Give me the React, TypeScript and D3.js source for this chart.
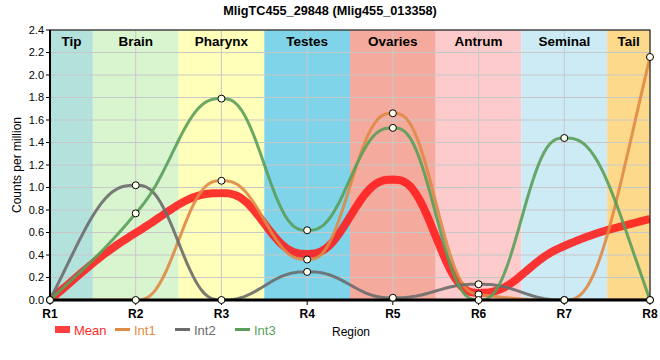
import React from "react";
import * as d3 from "d3";

const regions = ["R1", "R2", "R3", "R4", "R5", "R6", "R7", "R8"];
const tissues = ["Tip", "Brain", "Pharynx", "Testes", "Ovaries", "Antrum", "Seminal", "Tail"];
const tissueColors = ["#b3e2dd", "#d9f5d0", "#ffffb9", "#7fd4ea", "#f4aa9d", "#fdcbcb", "#cdebf4", "#fdd98b"];
const int1 = [0, 0, 1.06, 0.36, 1.66, 0.05, 0, 2.16];
const int2 = [0, 1.02, 0, 0.25, 0.02, 0.14, 0, 0];
const int3 = [0, 0.77, 1.79, 0.62, 1.53, 0, 1.44, 0];
const mean = int1.map((v, i) => (v + int2[i] + int3[i]) / 3);
const yTicks = d3.range(0, 2.41, 0.2);

const W = 660;
const H = 360;
const M = { left: 50, right: 10, top: 30, bottom: 60 };

const series = [
  { name: "Int1", values: int1, color: "#e08a45" },
  { name: "Int2", values: int2, color: "#6b6b6b" },
  { name: "Int3", values: int3, color: "#5a9e5a" },
];

// monotone tangents (like curveMonotoneX) but a quintic hermite between points,
// gives the flatter tops the original plot has
function curveQuintic(context: any) {
  let xs: number[] = [];
  let ys: number[] = [];
  return {
    areaStart() {},
    areaEnd() {},
    lineStart() {
      xs = [];
      ys = [];
    },
    point(x: number, y: number) {
      xs.push(+x);
      ys.push(+y);
    },
    lineEnd() {
      const n = xs.length;
      if (!n) return;
      context.moveTo(xs[0], ys[0]);
      if (n < 3) {
        if (n === 2) context.lineTo(xs[1], ys[1]);
        return;
      }
      const s: number[] = [];
      for (let i = 0; i < n - 1; i++) s.push((ys[i + 1] - ys[i]) / (xs[i + 1] - xs[i]));
      const m = new Array(n).fill(0);
      for (let i = 1; i < n - 1; i++) {
        const h0 = xs[i] - xs[i - 1];
        const h1 = xs[i + 1] - xs[i];
        const p = (s[i - 1] * h1 + s[i] * h0) / (h0 + h1);
        m[i] = (Math.sign(s[i - 1]) + Math.sign(s[i])) * Math.min(Math.abs(s[i - 1]), Math.abs(s[i]), 0.5 * Math.abs(p)) || 0;
      }
      m[0] = (3 * s[0] - m[1]) / 2;
      m[n - 1] = (3 * s[n - 2] - m[n - 2]) / 2;
      for (let i = 0; i < n - 1; i++) {
        const h = xs[i + 1] - xs[i];
        for (let k = 1; k <= 30; k++) {
          const t = k / 30;
          const t3 = t * t * t;
          const t4 = t3 * t;
          const t5 = t4 * t;
          const h0 = 1 - 10 * t3 + 15 * t4 - 6 * t5;
          const h1 = t - 6 * t3 + 8 * t4 - 3 * t5;
          const h4 = -4 * t3 + 7 * t4 - 3 * t5;
          const h5 = 10 * t3 - 15 * t4 + 6 * t5;
          context.lineTo(xs[i] + t * h, h0 * ys[i] + h1 * h * m[i] + h5 * ys[i + 1] + h4 * h * m[i + 1]);
        }
      }
    },
  };
}

export default function App() {
  const x = d3.scalePoint().domain(regions).range([M.left, W - M.right]);
  const y = d3.scaleLinear().domain([0, 2.4]).range([H - M.bottom, M.top]);
  const step = x.step();
  const line = d3
    .line<number>()
    .x((_, i) => x(regions[i])!)
    .y((d) => y(d))
    .curve(curveQuintic as any);
  const font = "Arial, 'Liberation Sans', sans-serif";
  const legend = [
    { name: "Mean", color: "#ff2a2a", thick: true },
    ...series.map((s) => ({ name: s.name, color: s.color, thick: false })),
  ];

  return (
    <svg width={W} height={H} style={{ position: "absolute", left: 0, top: 0 }} fontFamily={font}>
      <defs>
        <clipPath id="plot">
          <rect x={M.left} y={M.top} width={W - M.left - M.right} height={H - M.top - M.bottom} />
        </clipPath>
      </defs>
      <text x={W / 2} y={15} textAnchor="middle" fontSize={12.7} fontWeight="bold">
        MligTC455_29848 (Mlig455_013358)
      </text>
      {/* tissue bands */}
      <g clipPath="url(#plot)">
        {tissues.map((t, i) => {
          const cx = x(regions[i])!;
          return (
            <rect key={t} x={cx - step / 2} y={M.top} width={step} height={H - M.top - M.bottom} fill={tissueColors[i]} />
          );
        })}
      </g>
      {/* grid */}
      <g stroke="#c8c8c8" strokeWidth={1}>
        {yTicks.map((t) => (
          <line key={t} x1={M.left} x2={W - M.right} y1={y(t)} y2={y(t)} />
        ))}
        {regions.map((r) => (
          <line key={r} x1={x(r)} x2={x(r)} y1={M.top} y2={H - M.bottom} />
        ))}
      </g>
      {tissues.map((t, i) => {
        const lo = Math.max(M.left, x(regions[i])! - step / 2);
        const hi = Math.min(W - M.right, x(regions[i])! + step / 2);
        return (
          <text key={t} x={(lo + hi) / 2} y={M.top + 16} textAnchor="middle" fontSize={13.5} fontWeight="bold">
            {t}
          </text>
        );
      })}
      {/* lines */}
      <g clipPath="url(#plot)" fill="none">
        <path d={line(mean)!} stroke="#ff1a1a" strokeOpacity={0.88} strokeWidth={8} />
        {series.map((s) => (
          <path key={s.name} d={line(s.values)!} stroke={s.color} strokeOpacity={0.9} strokeWidth={3} />
        ))}
      </g>
      {/* frame + axes */}
      <rect x={M.left} y={M.top} width={W - M.left - M.right} height={H - M.top - M.bottom} fill="none" stroke="#000" strokeWidth={1} />
      <line x1={M.left} x2={M.left} y1={M.top} y2={H - M.bottom} stroke="#000" strokeWidth={2} />
      <line x1={M.left} x2={W - M.right} y1={H - M.bottom} y2={H - M.bottom} stroke="#000" strokeWidth={3} />
      {yTicks.map((t) => (
        <g key={t}>
          <line x1={M.left - 4} x2={M.left} y1={y(t)} y2={y(t)} stroke="#000" />
          <text x={M.left - 6} y={y(t)} dy="0.35em" textAnchor="end" fontSize={11}>
            {d3.format(".1f")(t)}
          </text>
        </g>
      ))}
      {regions.map((r) => (
        <g key={r}>
          <line x1={x(r)} x2={x(r)} y1={H - M.bottom} y2={H - M.bottom + 5} stroke="#000" />
          <text x={x(r)} y={H - M.bottom + 18} textAnchor="middle" fontSize={12} fontWeight="bold">
            {r}
          </text>
        </g>
      ))}
      {/* points */}
      <g fill="#fffff0" stroke="#000" strokeWidth={1}>
        {series.map((s) =>
          s.values.map((v, i) => <circle key={s.name + i} cx={x(regions[i])} cy={y(v)} r={3.5} />)
        )}
      </g>
      <text transform={`translate(21,${(M.top + H - M.bottom) / 2}) rotate(-90)`} textAnchor="middle" fontSize={12}>
        Counts per million
      </text>
      {/* legend */}
      {legend.map((l, i) => {
        const lx = 55 + i * 60;
        return (
          <g key={l.name}>
            {l.thick ? (
              <rect x={lx} y={326} width={15} height={7} fill={l.color} fillOpacity={0.9} />
            ) : (
              <line x1={lx} x2={lx + 15} y1={329.5} y2={329.5} stroke={l.color} strokeWidth={3} />
            )}
            <text x={lx + 19} y={330} dy="0.35em" fontSize={13} fill={l.color}>
              {l.name}
            </text>
          </g>
        );
      })}
      <text x={332} y={332} dy="0.35em" fontSize={12}>
        Region
      </text>
    </svg>
  );
}
